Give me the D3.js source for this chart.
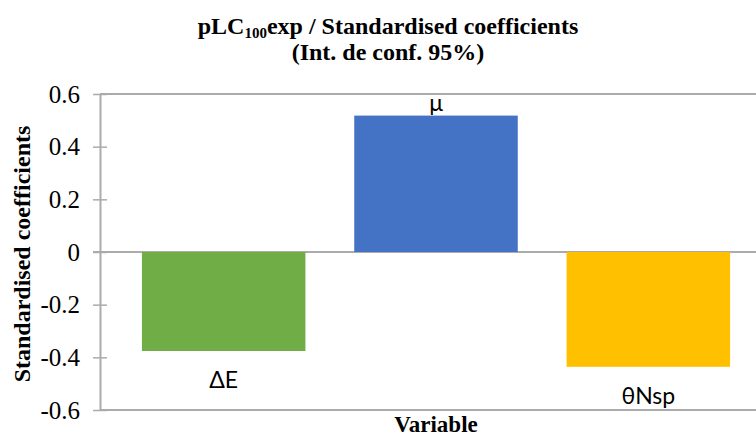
<!DOCTYPE html>
<html><head><meta charset="utf-8">
<script src="https://cdn.jsdelivr.net/npm/d3@7"></script>
<style>body{margin:0;background:#fff}svg{display:block}</style>
</head><body>
<svg id="c" width="756" height="437"></svg>
<script>
const categories = ["ΔE", "μ", "θNsp"];
const values = [-0.376, 0.518, -0.436];
const colors = ["#70AD47", "#4472C4", "#FFC000"];
const yTicks = [-0.6, -0.4, -0.2, 0, 0.2, 0.4, 0.6];
const yTickLabels = ["-0.6", "-0.4", "-0.2", "0", "0.2", "0.4", "0.6"];

const svg = d3.select("#c");
const W = 756, H = 437;
const axisX = 100;
const y = d3.scaleLinear().domain([-0.6, 0.6]).range([410, 94]);
const x = d3.scaleBand().domain(categories).range([117.5, 754.5]).paddingInner(0.23).paddingOuter(0.115);
const grey = "#ABABAB";
const serif = "'Liberation Serif', 'Times New Roman', serif";
const sans = "Lato, 'Open Sans', sans-serif";

[-0.6, 0, 0.6].forEach(v => {
  svg.append("line").attr("x1", v === 0 ? axisX - 7 : axisX).attr("x2", W)
    .attr("y1", y(v)).attr("y2", y(v)).attr("stroke", grey).attr("stroke-width", 2);
});

svg.selectAll("rect.bar").data(categories).enter().append("rect")
  .attr("x", d => x(d)).attr("width", x.bandwidth())
  .attr("y", (d, i) => y(Math.max(0, values[i])))
  .attr("height", (d, i) => Math.abs(y(values[i]) - y(0)))
  .attr("fill", (d, i) => colors[i]);

const yAxis = d3.axisLeft(y).tickValues(yTicks).tickFormat((d, i) => yTickLabels[i])
  .tickSizeInner(7).tickSizeOuter(0).tickPadding(13);
const ga = svg.append("g").attr("transform", `translate(${axisX},0)`).call(yAxis);
ga.attr("font-family", null).attr("font-size", null);
ga.select(".domain").attr("stroke", grey).attr("stroke-width", 2);
ga.selectAll(".tick line").attr("stroke", grey).attr("stroke-width", 1.5).attr("x2", 7).attr("x1", -7);
ga.selectAll(".tick text").style("font-family", serif).style("font-size", "25px").attr("fill", "#000");

svg.selectAll("text.cat").data(categories).enter().append("text")
  .attr("x", d => x(d) + x.bandwidth() / 2)
  .attr("y", (d, i) => values[i] >= 0 ? y(values[i]) - 5 : y(values[i]) + 37)
  .attr("text-anchor", "middle").style("font-family", sans).style("font-size", "23px").attr("fill", "#000")
  .text(d => d);

const t = svg.append("text").attr("x", 388).attr("y", 34).attr("text-anchor", "middle")
  .style("font-family", serif).style("font-weight", "bold").style("font-size", "24px").attr("fill", "#000");
t.append("tspan").text("pLC");
t.append("tspan").style("font-size", "15px").attr("dy", 4).text("100");
t.append("tspan").attr("dy", -4).text("exp / Standardised coefficients");
svg.append("text").attr("x", 388).attr("y", 60).attr("text-anchor", "middle")
  .style("font-family", serif).style("font-weight", "bold").style("font-size", "24px").attr("fill", "#000")
  .text("(Int. de conf. 95%)");

svg.append("text").attr("transform", "translate(30,254) rotate(-90)").attr("text-anchor", "middle")
  .style("font-family", serif).style("font-weight", "bold").style("font-size", "24px").attr("fill", "#000")
  .text("Standardised coefficients");
svg.append("text").attr("x", 436).attr("y", 432).attr("text-anchor", "middle")
  .style("font-family", serif).style("font-weight", "bold").style("font-size", "23px").attr("fill", "#000")
  .text("Variable");
</script>
</body></html>
